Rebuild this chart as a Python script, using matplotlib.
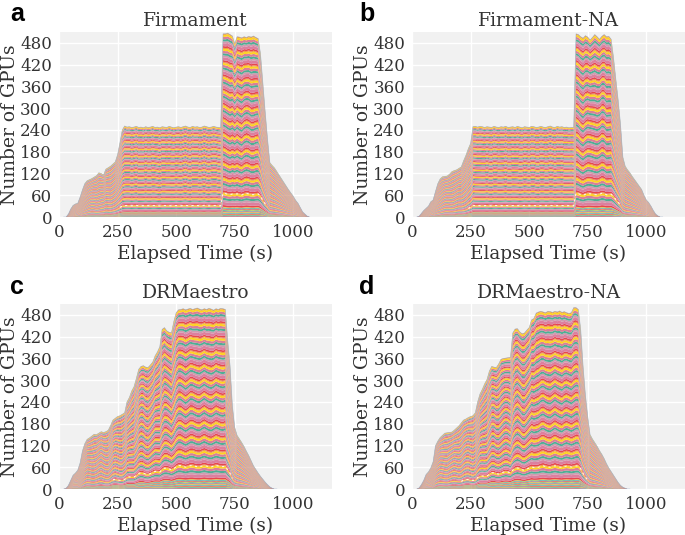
import matplotlib
matplotlib.use("Agg")
import matplotlib.pyplot as plt
import numpy as np

plt.rcParams["font.family"] = "DejaVu Serif"
plt.rcParams["text.color"] = "#333333"
plt.rcParams["axes.labelcolor"] = "#333333"
plt.rcParams["xtick.color"] = "#333333"
plt.rcParams["ytick.color"] = "#333333"

# sampled every 10 s
time_ab = np.arange(20, 1071, 10)
time_cd = np.arange(20, 931, 10)

total_a = [
    0, 0, 8, 22, 32, 36, 38, 55, 75, 92,
    100, 103, 106, 110, 114, 122, 120, 116, 132, 136,
    140, 146, 152, 172, 205, 240, 251, 248, 249, 247,
    248, 250, 247, 248, 246, 249, 247, 248, 250, 247,
    248, 246, 249, 248, 247, 250, 248, 246, 248, 249,
    247, 249, 251, 248, 247, 250, 248, 249, 247, 248,
    251, 249, 247, 248, 250, 248, 247, 246, 505, 505,
    507, 503, 499, 478, 497, 496, 494, 497, 495, 498,
    496, 499, 495, 492, 450, 370, 290, 215, 150, 142,
    135, 125, 115, 105, 95, 85, 75, 66, 57, 46,
    38, 26, 14, 8, 2, 0,
]
total_b = [
    0, 2, 10, 18, 24, 30, 42, 47, 70, 92,
    105, 111, 112, 113, 118, 125, 128, 130, 134, 138,
    155, 170, 188, 203, 249, 250, 248, 250, 249, 247,
    249, 248, 247, 250, 248, 247, 249, 248, 250, 247,
    248, 249, 247, 250, 248, 246, 249, 248, 247, 250,
    249, 247, 248, 250, 248, 247, 249, 251, 248, 247,
    250, 248, 249, 247, 248, 246, 247, 247, 505, 503,
    497, 493, 500, 496, 488, 495, 503, 497, 490, 498,
    503, 497, 498, 490, 440, 380, 322, 255, 165, 140,
    130, 122, 112, 103, 94, 85, 76, 60, 47, 40,
    30, 18, 8, 3, 0, 0,
]
total_c = [
    0, 2, 10, 24, 38, 44, 52, 72, 105, 125,
    137, 141, 146, 151, 150, 154, 158, 156, 158, 162,
    175, 190, 195, 200, 202, 206, 210, 240, 252, 270,
    282, 305, 330, 338, 340, 336, 335, 342, 350, 367,
    378, 392, 440, 445, 436, 432, 431, 462, 486, 494,
    495, 497, 494, 496, 498, 495, 497, 499, 496, 494,
    497, 495, 498, 496, 493, 497, 495, 498, 497, 495,
    410, 340, 230, 170, 148, 138, 128, 117, 104, 92,
    78, 64, 54, 44, 35, 27, 19, 12, 6, 2,
    0, 0,
]
total_d = [
    0, 3, 12, 24, 40, 47, 58, 75, 119, 132,
    142, 148, 154, 155, 156, 157, 162, 168, 174, 182,
    190, 193, 197, 200, 202, 210, 240, 262, 275, 290,
    302, 325, 338, 336, 335, 345, 358, 360, 361, 362,
    363, 430, 441, 442, 433, 428, 430, 438, 445, 466,
    470, 485, 488, 490, 488, 486, 490, 489, 487, 490,
    488, 491, 487, 489, 486, 484, 486, 500, 500, 495,
    440, 340, 260, 200, 150, 138, 128, 118, 106, 96,
    84, 70, 58, 48, 38, 28, 18, 10, 5, 2,
    0, 0,
]

# up/down drift of the inner bands
ripple_a = [
    0, 0, 0, 0, 0, .2, .4, .1, -.3, -.5,
    -.2, .3, .6, .2, -.4, -.6, -.1, .4, .5, 0,
    -.5, -.3, .2, .5, .3, .1, -.1, .2, .1, -.1,
    .1, .2, -.1, -.1, .1, .2, 0, -.1, .1, .2,
    -.1, -.2, .1, .2, .1, -.1, -.1, .1, .2, -.1,
    -.1, .1, .2, 0, -.2, .1, .2, .1, -.1, .1,
    .2, -.1, -.2, .1, .1, .2, -.1, -.1, .9, .4,
    -.6, -.9, .1, .8, .5, -.4, -.8, .2, .9, .3,
    -.5, -.7, .2, .6, .2, -.3, -.3, .1, .1, 0,
    0, 0, 0, 0, 0, 0, 0, 0, 0, 0,
    0, 0, 0, 0, 0, 0,
]
ripple_b = [
    0, 0, 0, 0, 0, .1, .3, .5, .1, -.4,
    -.6, -.1, .5, .6, .1, -.5, -.3, .3, .5, .1,
    -.4, -.4, .1, .4, .3, 0, .1, -.1, -.1, .1,
    .2, -.1, -.1, .1, .2, 0, -.1, .1, .2, 0,
    -.1, .1, .2, -.1, -.2, .1, .2, .1, -.1, .1,
    .2, 0, -.2, .1, .2, 0, -.1, .1, .2, -.1,
    -.1, .1, .2, 0, -.1, .1, .1, -.1, 1, .5,
    -.5, -1, -.3, .7, 1, .2, -.8, -.7, .4, 1,
    .3, -.7, -.6, .3, .4, 0, -.2, 0, .1, 0,
    0, 0, 0, 0, 0, 0, 0, 0, 0, 0,
    0, 0, 0, 0, 0, 0,
]
ripple_c = [
    0, 0, 0, .2, .4, .1, -.4, -.7, -.2, .5,
    .8, .3, -.5, -.8, -.2, .6, .9, .2, -.6, -.9,
    -.2, .7, .9, .1, -.7, -.9, .1, .9, .7, -.4,
    -1, -.5, .6, 1, .4, -.7, -1, -.3, .7, .9,
    .1, -1, -.9, .5, 1, .4, -.8, -1, 0, .9,
    .7, -.3, -.9, -.3, .6, .8, 0, -.7, -.6, .4,
    .9, .3, -.6, -.7, .2, .8, .4, -.4, -.5, .2,
    .3, .1, 0, 0, 0, 0, 0, 0, 0, 0,
    0, 0, 0, 0, 0, 0, 0, 0, 0, 0,
    0, 0,
]
ripple_d = [
    0, 0, 0, .2, .3, 0, -.4, -.6, 0, .6,
    .8, .2, -.6, -.8, 0, .7, .9, .1, -.7, -.8,
    .1, .8, .7, -.2, -.8, -.6, .4, 1, .5, -.6,
    -1, -.2, .9, 1, -.1, -1, -.8, .4, 1, .5,
    -.7, -1, .2, 1, .7, -.5, -1, -.2, .8, .8,
    -.1, -.8, -.6, .4, .9, .3, -.6, -.7, .3, .9,
    .3, -.6, -.7, .2, .8, .4, -.4, -.6, .2, .4,
    .2, 0, 0, 0, 0, 0, 0, 0, 0, 0,
    0, 0, 0, 0, 0, 0, 0, 0, 0, 0,
    0, 0,
]

titles = ["Firmament", "Firmament-NA", "DRMaestro", "DRMaestro-NA"]
letters = ["a", "b", "c", "d"]
x_ticks = [0, 250, 500, 750, 1000]
y_ticks = [0, 60, 120, 180, 240, 300, 360, 420, 480]

# one repeat of the stripes, bottom to top
cycle_weights = [1.3, 2.2, 1.4, 1.6, 1.8, 1.5, 0.8]
cycle_colors = ["#e6474f", "#dd7f9f", "#d09ab0", "#4fae94", "#d97f99", "#ffd320", "#f0a040"]
base_weights = [0.5, 0.4, 0.5, 0.4, 0.5, 0.4, 0.5, 0.4, 0.5, 0.4, 0.5, 0.4, 0.5, 0.4, 0.5, 0.4]
base_colors = ["#e6474f", "#6fa8c8", "#4fae94", "#ffd320"] * 4
n_cycles = 12

weights = np.array(base_weights + cycle_weights * n_cycles)
colors = base_colors + cycle_colors * n_cycles
edges = np.concatenate([[0], np.cumsum(weights)]) / weights.sum()

fig = plt.figure(figsize=(6.85, 5.35), dpi=100)
panel_left = [59, 412]
panel_top = [32, 304]
panel_w = 273
panel_h = 185
letter_xs = [10, 359, 10, 359]
letter_ys = [14, 14, 287, 287]


def draw(ax, time, total, ripple, title):
    total = np.array(total, dtype=float)
    ripple = np.array(ripple, dtype=float)
    # stacked band edges follow the total, pushed around by the ripple
    levels = np.outer(edges, total)
    levels = levels + np.outer(np.sin(np.pi * edges), ripple * np.minimum(total, 6))
    bands = np.diff(levels, axis=0)
    bands[bands < 0] = 0

    ax.set_facecolor("#f1f1f1")
    ax.grid(True, color="white", linewidth=1.0)
    ax.set_axisbelow(True)
    for s in ax.spines.values():
        s.set_visible(False)
    ax.stackplot(time, bands, colors=colors, linewidth=0)
    ax.plot(time, total, color="#8fa5c4", linewidth=0.4, alpha=0.8)

    # pale dashes low in the stack
    dash = np.where(total > 180, levels[22], np.nan)
    ax.plot(time, dash, color="white", linewidth=0.8, linestyle=(0, (2, 3)), alpha=0.85)

    ax.set_xlim(0, 1165)
    ax.set_ylim(0, 510)
    ax.set_xticks(x_ticks)
    ax.set_yticks(y_ticks)
    ax.tick_params(length=0, labelsize=12, pad=5)
    ax.set_xlabel("Elapsed Time (s)", fontsize=13.2, labelpad=3)
    ax.set_ylabel("Number of GPUs", fontsize=13.5, labelpad=1)
    ax.set_title(title, fontsize=13.5, pad=4)


series = [
    (time_ab, total_a, ripple_a),
    (time_ab, total_b, ripple_b),
    (time_cd, total_c, ripple_c),
    (time_cd, total_d, ripple_d),
]
for i, (time, total, ripple) in enumerate(series):
    left = panel_left[i % 2]
    top = panel_top[i // 2]
    ax = fig.add_axes([left / 685, 1 - (top + panel_h) / 535, panel_w / 685, panel_h / 535])
    draw(ax, time, total, ripple, titles[i])
    fig.text(letter_xs[i] / 685, 1 - letter_ys[i] / 535, letters[i], fontsize=18,
             fontweight="bold", family="Liberation Sans", color="black", ha="left", va="center")

fig.savefig("out.png", dpi=100)
